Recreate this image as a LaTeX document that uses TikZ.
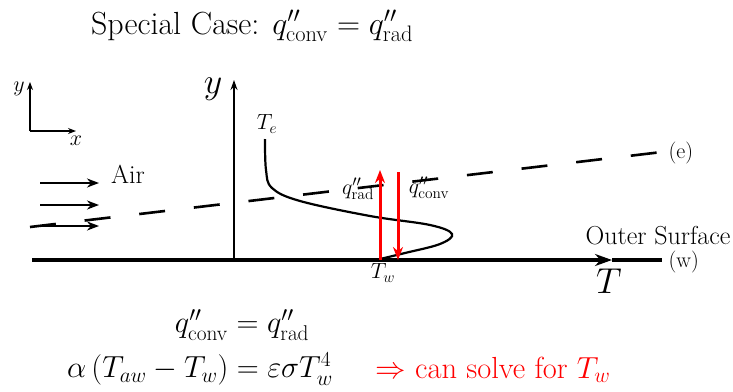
\RequirePackage{fix-cm}
\documentclass[tikz,border=0pt]{standalone}
\usetikzlibrary{arrows.meta}
\begin{document}
\begin{tikzpicture}[x=1pt,y=-1pt,
  huge/.style={font=\fontsize{32}{38}\selectfont},
  eqn/.style={font=\fontsize{30.5}{36}\selectfont,inner sep=0pt},
  big/.style={font=\fontsize{26}{31}\selectfont},
  small/.style={font=\fontsize{22}{26}\selectfont},
  thinarrow/.style={line width=1.5pt,-{Stealth[length=10pt,width=7pt]}},
  airarrow/.style={line width=2.2pt,-{Stealth[length=12pt,width=9pt]}},
  redarrow/.style={draw=red,line width=3pt,-{Stealth[length=13pt,width=10pt]}},
  dashline/.style={line width=2.6pt,dash pattern=on 26pt off 29pt}]
\useasboundingbox (0,0) rectangle (733,391);
% title
\node[huge] (title) at (252,26) {Special Case: $q''_{\mathrm{conv}}=q''_{\mathrm{rad}}$};
% small axes
\coordinate (o) at (30,131);
\coordinate (oy) at (30,82);
\coordinate (ox) at (76,131);
\draw[line width=1.2pt,-{Stealth[length=8pt,width=6pt]}] (o) -- (oy);
\draw[line width=1.2pt,-{Stealth[length=8pt,width=6pt]}] (o) -- (ox);
\node[small] (ly) at (19,89) {$y$};
\node[small] (lx) at (76,141) {$x$};
% main axes
\coordinate (yb) at (234,260);
\coordinate (yt) at (234,80);
\draw[thinarrow] (yb) -- (yt);
\node[font=\fontsize{36}{42}\selectfont] (lyy) at (213,89) {$y$};
\coordinate (xl) at (32,260);
\coordinate (xm) at (612,260);
\coordinate (xr) at (662,260);
\draw[line width=3.5pt,-{Stealth[length=17pt,width=12pt]}] (xl) -- (xm);
\draw[line width=3.5pt] (xm) -- (xr);
\node[small,anchor=west] (w) at (665,262) {(w)};
\node[font=\fontsize{36}{42}\selectfont] (T) at (609,281) {$T$};
\node[big] (outer) at (658,236) {Outer Surface};
% dashed edge line
\coordinate (d1) at (30,227);
\coordinate (d2) at (662,152);
\draw[dashline] (d1) -- (d2);
\node[small,anchor=west] (e) at (665,153) {(e)};
% air arrows
\foreach \yy/\n in {183/a1,205/a2,226/a3}{
  \coordinate (\n s) at (40,\yy);
  \coordinate (\n e) at (99,\yy);
  \draw[airarrow] (\n s) -- (\n e);
}
\node[big] (air) at (128,174) {Air};
% profile
\draw[line width=2.2pt] plot[smooth,tension=0.6] coordinates {(265,139) (266,170) (272,188) (300,201) (370,216) (430,225) (452,234) (440,244) (405,253) (380,259)};
\node[small] (Te) at (267,124) {$T_e$};
\node[small] (Tw) at (383,273) {$T_w$};
% red arrows
\coordinate (r1b) at (380,260);
\coordinate (r1t) at (380,170);
\coordinate (r2t) at (398,172);
\coordinate (r2b) at (398,260);
\draw[redarrow] (r1b) -- (r1t);
\draw[redarrow] (r2t) -- (r2b);
\node[small] (qrad) at (358,189) {$q''_{\mathrm{rad}}$};
\node[small] (qconv) at (429,188) {$q''_{\mathrm{conv}}$};
% equations
\node[eqn] (eq1) at (242,325) {$q''_{\mathrm{conv}}=q''_{\mathrm{rad}}$};
\node[eqn] (eq2) at (200,369) {$\alpha\left(T_{aw}-T_w\right)=\varepsilon\sigma T_w^4$};
\node[eqn,text=red] (eq3) at (493,370) {$\Rightarrow$ can solve for $T_w$};
\end{tikzpicture}
\end{document}
